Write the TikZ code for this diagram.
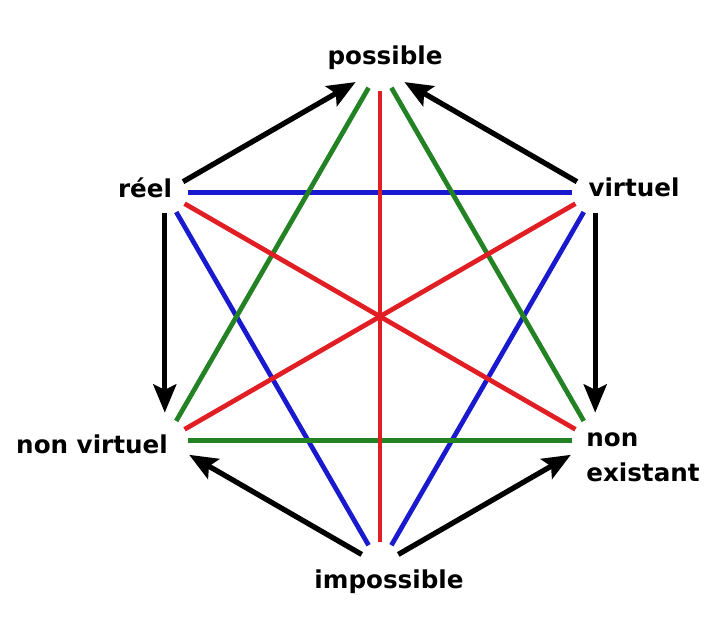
\documentclass[tikz,border=0pt]{standalone}
\usepackage{fontspec}
\setsansfont{DejaVu Sans}
\usepackage{tikz}
\usetikzlibrary{arrows.meta}
\definecolor{hexred}{RGB}{225,30,35}
\definecolor{hexblue}{RGB}{25,25,205}
\definecolor{hexgreen}{RGB}{35,130,35}

\begin{document}
\begin{tikzpicture}[scale=2,>={Stealth[length=16pt,width=13pt,inset=3pt]},
  lbl/.style={font=\sffamily\bfseries\fontsize{14}{20}\selectfont,inner sep=0pt},
  diag/.style={line width=2.7pt,shorten <=13pt,shorten >=13pt},
  edge/.style={line width=3pt,->,shorten <=12pt,shorten >=16pt}]

  \useasboundingbox[fill=white] (-3.80,-3.015) rectangle (3.32,3.165);

  % corners of the hexagon
  \coordinate (pos) at (90:2.485);
  \coordinate (rea) at (150:2.485);
  \coordinate (nvi) at (210:2.485);
  \coordinate (imp) at (270:2.485);
  \coordinate (nex) at (330:2.485);
  \coordinate (vir) at (30:2.485);

  % blue triangle
  \draw[diag,hexblue] (rea) -- (vir);
  \draw[diag,hexblue] (rea) -- (imp);
  \draw[diag,hexblue] (vir) -- (imp);

  % green triangle
  \draw[diag,hexgreen] (nvi) -- (nex);
  \draw[diag,hexgreen] (pos) -- (nvi);
  \draw[diag,hexgreen] (pos) -- (nex);

  % red diagonals
  \draw[diag,hexred] (pos) -- (imp);
  \draw[diag,hexred] (rea) -- (nex);
  \draw[diag,hexred] (vir) -- (nvi);

  % arrows on the sides
  \draw[edge] (rea) -- (pos);
  \draw[edge] (vir) -- (pos);
  \draw[edge] (rea) -- (nvi);
  \draw[edge] (vir) -- (nex);
  \draw[edge] (imp) -- (nvi);
  \draw[edge] (imp) -- (nex);

  \node[lbl] (lpos) at (0.05,2.585) {possible};
  \node[lbl] (lrea) at (-2.35,1.285) {réel};
  \node[lbl] (lvir) at (2.54,1.295) {virtuel};
  \node[lbl] (lnvi) at (-2.88,-1.275) {non virtuel};
  \node[lbl,align=left] (lnex) at (2.63,-1.405) {non\\existant};
  \node[lbl] (limp) at (0.09,-2.655) {impossible};
\end{tikzpicture}
\end{document}
